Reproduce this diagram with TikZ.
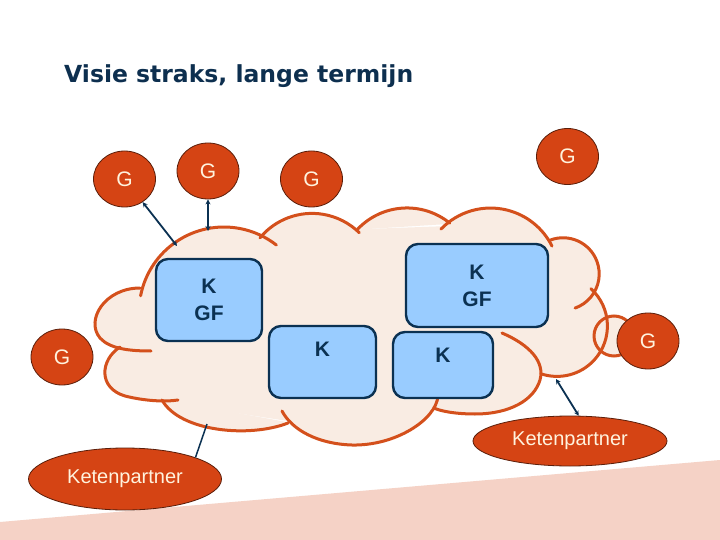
\documentclass[tikz,border=0pt]{standalone}
\usepackage{fontspec}
\setmainfont{Liberation Sans}
\newfontfamily\titlefont{DejaVu Sans}
\usetikzlibrary{shapes.geometric,arrows.meta}
\definecolor{cloudfill}{HTML}{F9ECE3}
\definecolor{cloudline}{HTML}{D4501C}
\definecolor{redfill}{HTML}{D54414}
\definecolor{redline}{HTML}{5A1E0A}
\definecolor{cream}{HTML}{FFF3DE}
\definecolor{boxfill}{HTML}{99CCFF}
\definecolor{navy}{HTML}{0B3152}
\definecolor{titlecol}{HTML}{0D2F4F}
\definecolor{band}{HTML}{F5D2C6}
\begin{document}
\begin{tikzpicture}[x=1pt,y=-1pt,
 gnode/.style={ellipse, fill=redfill, draw=redline, line width=0.8pt, minimum width=62pt, minimum height=56pt, inner sep=0pt, text=cream, font=\fontsize{21}{25}\selectfont},
 kpnode/.style={ellipse, fill=redfill, draw=redline, line width=0.8pt, inner sep=0pt, text=cream, font=\fontsize{20}{24}\selectfont},
 kbox/.style={rectangle, rounded corners=12pt, fill=boxfill, draw=navy, line width=2.4pt, text=navy, inner sep=0pt, align=center, font=\bfseries\fontsize{21}{27}\selectfont},
 conn/.style={draw=navy, line width=1.8pt, >={Stealth[length=5pt,width=5pt]}, <->},
 plainconn/.style={draw=navy, line width=1.5pt},
 cloudstroke/.style={draw=cloudline, line width=3pt, line cap=round},
 cloudpart/.style={fill=cloudfill, draw=cloudfill, line width=1.5pt, line join=round},
]
\useasboundingbox (0,0) rectangle (720,540);
\fill[white] (0,0) rectangle (720,540);
% bottom band
\fill[band] (0,522) -- (720,460) -- (720,540) -- (0,540) -- cycle;

% cloud fill: central polygon through the cusps
\path[cloudpart] (140,290) -- (262,237) -- (359,230) -- (443,227) -- (551,240) -- (591,289)
  -- (540,375) -- (435,407) -- (286,420) -- (163,401) -- (120,348) -- cycle;
% cloud fill: caps of the bumps
\path[cloudpart] (140.6,295.8) arc[start angle=191, end angle=308, radius=85] -- cycle;
\path[cloudpart] (259.9,237.9) arc[start angle=219.6, end angle=314.4, radius=67.6] -- cycle;
\path[cloudpart] (357.9,228.9) arc[start angle=223.8, end angle=309, radius=68] -- cycle;
\path[cloudpart] (441.0,229.1) arc[start angle=223.9, end angle=333.5, radius=68.7] -- cycle;
\path[cloudpart] (550.2,240.1) arc[start angle=249.3, end angle=430.5, radius=36.2] -- cycle;
\path[cloudpart] (591.0,288.8) arc[start angle=312.4, end angle=468.5, radius=50.4] -- cycle;
\path[cloudpart] (502,333) .. controls (530,345) and (545,362) .. (540,380)
  .. controls (534,400) and (510,414) .. (475,414) .. controls (455,414) and (440,411) .. (434,408) -- cycle;
\path[cloudpart] (438,396) .. controls (436,420) and (395,446) .. (352,445)
  .. controls (318,444) and (292,430) .. (282,411) -- cycle;
\path[cloudpart] (288,423) .. controls (250,438) and (180,432) .. (162,400) -- cycle;
\path[cloudpart] (120,347) .. controls (100,360) and (98,388) .. (125,396)
  .. controls (145,401) and (165,402) .. (178,400) -- cycle;
\path[cloudpart] (140,288) .. controls (105,288) and (85,320) .. (100,338)
  .. controls (110,349) and (130,351) .. (151,351) -- cycle;

% small circle at right
\draw[cloudstroke, fill=cloudfill] (614,336) circle[radius=20];

% cloud strokes
\draw[cloudstroke] (140.6,295.8) arc[start angle=191, end angle=308, radius=85];
\draw[cloudstroke] (259.9,237.9) arc[start angle=219.6, end angle=314.4, radius=67.6];
\draw[cloudstroke] (357.9,228.9) arc[start angle=223.8, end angle=309, radius=68];
\draw[cloudstroke] (441.0,229.1) arc[start angle=223.9, end angle=333.5, radius=68.7];
\draw[cloudstroke] (550.2,240.1) arc[start angle=249.3, end angle=430.5, radius=36.2];
\draw[cloudstroke] (591.0,288.8) arc[start angle=312.4, end angle=468.5, radius=50.4];
\draw[cloudstroke] (502,333) .. controls (530,345) and (545,362) .. (540,380)
  .. controls (534,400) and (510,414) .. (475,414) .. controls (455,414) and (440,411) .. (434,408);
\draw[cloudstroke] (438,396) .. controls (436,420) and (395,446) .. (352,445)
  .. controls (318,444) and (292,430) .. (282,411);
\draw[cloudstroke] (288,423) .. controls (250,438) and (180,432) .. (162,400);
\draw[cloudstroke] (120,347) .. controls (100,360) and (98,388) .. (125,396)
  .. controls (145,401) and (165,402) .. (178,400);
\draw[cloudstroke] (140,288) .. controls (105,288) and (85,320) .. (100,338)
  .. controls (110,349) and (130,351) .. (151,351);

% boxes
\node[kbox, minimum width=106pt, minimum height=82pt] (kgf1) at (209,300) {K\\GF};
\node[kbox, minimum width=142pt, minimum height=83pt] (kgf2) at (477,285.5) {K\\GF};
\node[kbox, minimum width=107pt, minimum height=72pt, text height=15pt, text depth=26pt] (k1) at (322.5,362) {K};
\node[kbox, minimum width=100pt, minimum height=66pt, text height=15pt, text depth=20pt] (k2) at (443,365) {K};

% G nodes
\node[gnode] (g1) at (124.5,179) {G};
\node[gnode] (g2) at (208,171) {G};
\node[gnode] (g3) at (311.5,179) {G};
\node[gnode] (g4) at (62,357) {G};
\node[gnode] (g5) at (567.5,156.5) {G};
\node[gnode] (g6) at (648,341) {G};

% Ketenpartner nodes
\node[kpnode, minimum width=193pt, minimum height=62pt] (kp1) at (125,479) {Ketenpartner};
\node[kpnode, minimum width=194pt, minimum height=50pt] (kp2) at (570,441) {Ketenpartner};

% connectors
\coordinate (c1) at (177,246);
\coordinate (c2) at (208,231);
\coordinate (c3) at (556,379);
\coordinate (c4) at (207,424);
\draw[conn] (g1) -- (c1);
\draw[conn] (g2) -- (c2);
\draw[conn] (kp2.71) -- (c3);
\draw[plainconn] (kp1.17) -- (c4);

% title
\node[anchor=base west, inner sep=0pt, text=titlecol, font=\titlefont\bfseries\fontsize{23.5}{28}\selectfont] (title) at (64,83) {Visie straks, lange termijn};
\end{tikzpicture}
\end{document}
